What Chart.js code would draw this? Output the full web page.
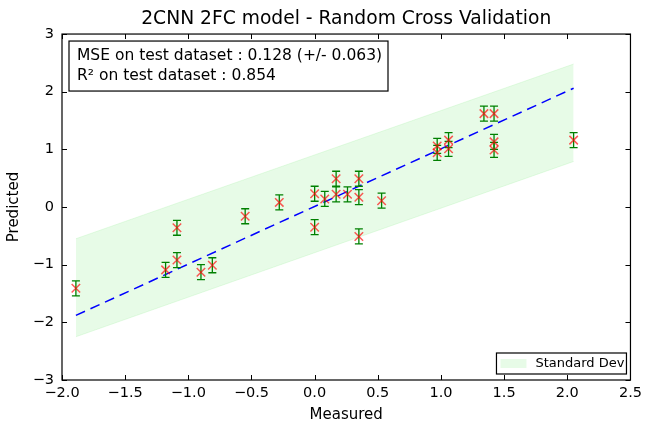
<!DOCTYPE html>
<html>
<head>
<meta charset="utf-8">
<script src="https://cdn.jsdelivr.net/npm/chart.js@4.4.1/dist/chart.umd.min.js"></script>
<style>
  body { margin: 0; background: #fff; }
  #wrap { width: 647px; height: 430px; }
</style>
</head>
<body>
<div id="wrap"><canvas id="chart" width="647" height="430"></canvas></div>
<script>
const measured  = [-1.89, -1.18, -1.09, -1.09, -0.90, -0.81, -0.55, -0.28, 0.00, 0.00, 0.08, 0.17, 0.17, 0.26, 0.35, 0.35, 0.35, 0.53, 0.97, 0.97, 1.06, 1.06, 1.34, 1.42, 1.42, 1.42, 2.05];
const predicted = [-1.41, -1.09, -0.36, -0.92, -1.13, -1.01, -0.16, 0.08, 0.23, -0.35, 0.14, 0.22, 0.49, 0.22, 0.17, 0.49, -0.51, 0.11, 1.06, 0.94, 1.16, 1.01, 1.62, 1.62, 1.13, 0.99, 1.16];
const predErr   = [0.13, 0.13, 0.13, 0.13, 0.13, 0.13, 0.13, 0.13, 0.13, 0.13, 0.13, 0.13, 0.13, 0.13, 0.13, 0.13, 0.13, 0.13, 0.13, 0.13, 0.13, 0.13, 0.13, 0.13, 0.13, 0.13, 0.13];

const fitX  = [-1.89, 2.05];
const fitY  = [-1.88, 2.06];
const bandX = [-1.89, 2.05];
const bandUpper = [-0.55, 2.48];
const bandLower = [-2.25, 0.79];

const xTicks = [-2.0, -1.5, -1.0, -0.5, 0.0, 0.5, 1.0, 1.5, 2.0, 2.5];
const yTicks = [-3, -2, -1, 0, 1, 2, 3];

const statLines = ['MSE on test dataset : 0.128 (+/- 0.063)', 'R\u00B2 on test dataset : 0.854'];
const legendLabel = 'Standard Dev';

const bandColor = 'rgba(144, 238, 144, 0.22)';
const minus = v => String(v).replace('-', '\u2212');

Chart.defaults.font.family = "'DejaVu Sans', sans-serif";
Chart.defaults.color = '#000';

// green error bars, drawn just before the red markers
const errorBars = {
  id: 'errorBars',
  beforeDatasetDraw(chart, args) {
    if (args.index !== 0) return;
    const ctx = chart.ctx, xs = chart.scales.x, ys = chart.scales.y;
    ctx.save();
    ctx.strokeStyle = 'rgb(0,128,0)';
    ctx.lineWidth = 1.3;
    measured.forEach((m, i) => {
      const px = xs.getPixelForValue(m);
      const top = ys.getPixelForValue(predicted[i] + predErr[i]);
      const bot = ys.getPixelForValue(predicted[i] - predErr[i]);
      ctx.beginPath();
      ctx.moveTo(px, top); ctx.lineTo(px, bot);
      ctx.moveTo(px - 4, top); ctx.lineTo(px + 4, top);
      ctx.moveTo(px - 4, bot); ctx.lineTo(px + 4, bot);
      ctx.stroke();
    });
    ctx.restore();
  }
};

// frame, inward ticks, text box and legend
const frame = {
  id: 'frame',
  afterDraw(chart) {
    const ctx = chart.ctx, a = chart.chartArea, xs = chart.scales.x, ys = chart.scales.y;
    ctx.save();
    ctx.strokeStyle = '#000';
    ctx.lineWidth = 1;
    ctx.beginPath();
    xTicks.forEach(t => {
      const px = Math.round(xs.getPixelForValue(t)) + 0.5;
      ctx.moveTo(px, a.bottom); ctx.lineTo(px, a.bottom - 5);
      ctx.moveTo(px, a.top); ctx.lineTo(px, a.top + 5);
    });
    yTicks.forEach(t => {
      const py = Math.round(ys.getPixelForValue(t)) + 0.5;
      ctx.moveTo(a.left, py); ctx.lineTo(a.left + 5, py);
      ctx.moveTo(a.right, py); ctx.lineTo(a.right - 5, py);
    });
    ctx.stroke();
    ctx.lineWidth = 1.2;
    ctx.strokeRect(a.left, a.top, a.right - a.left, a.bottom - a.top);

    // stats box
    ctx.fillStyle = '#fff';
    ctx.fillRect(a.left + 7, a.top + 7, 319, 50);
    ctx.strokeRect(a.left + 7, a.top + 7, 319, 50);
    ctx.fillStyle = '#000';
    ctx.font = "15.5px 'DejaVu Sans'";
    ctx.textBaseline = 'middle';
    ctx.textAlign = 'left';
    ctx.fillText(statLines[0], a.left + 15, a.top + 22);
    ctx.fillText(statLines[1], a.left + 15, a.top + 42);

    // legend
    const lx = a.right - 134, ly = a.bottom - 27;
    ctx.fillStyle = '#fff';
    ctx.fillRect(lx, ly, 130, 21);
    ctx.strokeRect(lx, ly, 130, 21);
    ctx.fillStyle = bandColor;
    ctx.fillRect(lx + 4, ly + 6, 26, 9);
    ctx.fillStyle = '#000';
    ctx.font = "13px 'DejaVu Sans'";
    ctx.fillText(legendLabel, lx + 39, ly + 11);
    ctx.restore();
  }
};

new Chart(document.getElementById('chart'), {
  type: 'scatter',
  data: {
    datasets: [
      {
        label: 'Predicted',
        data: measured.map((m, i) => ({ x: m, y: predicted[i] })),
        pointStyle: 'crossRot',
        pointRadius: 6,
        pointHoverRadius: 6,
        borderColor: 'rgba(255,0,0,0.65)',
        backgroundColor: 'rgba(255,0,0,0.65)',
        pointBorderWidth: 1.5
      },
      {
        label: 'Fit',
        type: 'line',
        data: fitX.map((x, i) => ({ x: x, y: fitY[i] })),
        borderColor: 'rgb(0,0,255)',
        borderWidth: 1.5,
        borderDash: [10, 6],
        pointRadius: 0,
        fill: false
      },
      {
        label: legendLabel,
        type: 'line',
        data: bandX.map((x, i) => ({ x: x, y: bandUpper[i] })),
        borderColor: bandColor,
        backgroundColor: bandColor,
        borderWidth: 1,
        pointRadius: 0,
        fill: '+1'
      },
      {
        label: 'lower',
        type: 'line',
        data: bandX.map((x, i) => ({ x: x, y: bandLower[i] })),
        borderColor: bandColor,
        borderWidth: 1,
        pointRadius: 0,
        fill: false
      }
    ]
  },
  options: {
    responsive: false,
    animation: false,
    layout: { padding: { top: 0, right: 15, bottom: 0, left: 0 } },
    plugins: {
      legend: { display: false },
      tooltip: { enabled: false },
      title: {
        display: true,
        fullSize: false,
        text: '2CNN 2FC model - Random Cross Validation',
        font: { size: 18.7, weight: 'normal' },
        padding: { top: 8, bottom: 3.6 }
      }
    },
    scales: {
      x: {
        type: 'linear',
        min: -2,
        max: 2.5,
        afterFit(s) { s.height = 50; },
        afterBuildTicks(s) { s.ticks = xTicks.map(v => ({ value: v })); },
        grid: { display: false, drawTicks: false },
        border: { display: false },
        ticks: { font: { size: 14.5 }, padding: 5, maxRotation: 0,
                 callback: v => minus(v.toFixed(1)) },
        title: { display: true, text: 'Measured', font: { size: 15 }, padding: { top: 0, bottom: 6 } }
      },
      y: {
        type: 'linear',
        min: -3,
        max: 3,
        afterFit(s) { s.width = 62; },
        afterBuildTicks(s) { s.ticks = yTicks.map(v => ({ value: v })); },
        grid: { display: false, drawTicks: false },
        border: { display: false },
        ticks: { font: { size: 14.5 }, padding: 8, callback: v => minus(v) },
        title: { display: true, text: 'Predicted', font: { size: 15 }, padding: { top: 5, bottom: 0 } }
      }
    }
  },
  plugins: [errorBars, frame]
});
</script>
</body>
</html>
